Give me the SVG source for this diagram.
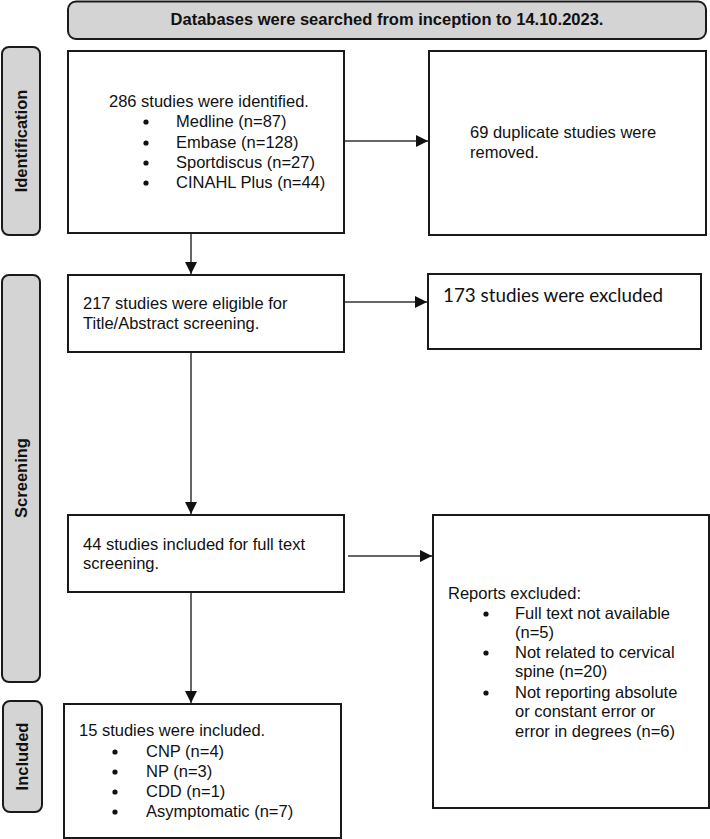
<svg xmlns="http://www.w3.org/2000/svg" width="710" height="839" viewBox="0 0 710 839">
<style>
.tab{fill:#d4d4d4;stroke:#1a1a1a;stroke-width:2}
.box{fill:#ffffff;stroke:#1a1a1a;stroke-width:2}
.t{font-family:"Liberation Sans",Arial,sans-serif;font-size:16.5px;fill:#111}
.b{font-family:"Liberation Sans",Arial,sans-serif;font-size:16.5px;font-weight:bold;fill:#111}
.c{font-family:Lato,"Liberation Sans",sans-serif;font-size:20px;fill:#111}
.conn{stroke:#333;stroke-width:1.5;fill:none}
</style>
<defs>
<marker id="ah" markerUnits="userSpaceOnUse" markerWidth="12" markerHeight="12" viewBox="0 0 12 12" refX="12" refY="6" orient="auto">
<path d="M0,0 L12,6 L0,12 Z" fill="#111"/>
</marker>
</defs>
<rect x="0" y="0" width="710" height="839" fill="#ffffff"/>
<g id="banner">
<rect class="tab" x="68" y="1.5" width="638" height="37.5" rx="8"/>
<text class="b" x="387" y="25" text-anchor="middle">Databases were searched from inception to 14.10.2023.</text>
</g>
<g id="tab-identification">
<rect class="tab" x="2" y="47" width="38" height="188" rx="7"/>
<text class="b" transform="translate(27,141) rotate(-90)" text-anchor="middle">Identification</text>
</g>
<g id="tab-screening">
<rect class="tab" x="2" y="275" width="38" height="407" rx="7"/>
<text class="b" transform="translate(27,478) rotate(-90)" text-anchor="middle">Screening</text>
</g>
<g id="tab-included">
<rect class="tab" x="3" y="701" width="39" height="111" rx="7"/>
<text class="b" transform="translate(28,756.5) rotate(-90)" text-anchor="middle">Included</text>
</g>
<g id="connectors">
<line class="conn" x1="191" y1="233" x2="191" y2="274" marker-end="url(#ah)"/>
<line class="conn" x1="344" y1="141" x2="428" y2="141" marker-end="url(#ah)"/>
<line class="conn" x1="344" y1="302" x2="427" y2="302" marker-end="url(#ah)"/>
<line class="conn" x1="191" y1="352" x2="191" y2="514" marker-end="url(#ah)"/>
<line class="conn" x1="348" y1="556" x2="432" y2="556" marker-end="url(#ah)"/>
<line class="conn" x1="191" y1="592" x2="191" y2="703" marker-end="url(#ah)"/>
</g>
<g id="box-identified">
<rect class="box" x="68" y="51" width="276" height="182"/>
<text class="t" x="109" y="107">286 studies were identified.</text>
<g class="t">
<circle cx="146" cy="122" r="2.6" fill="#111"/>
<text class="t" x="176" y="127">Medline (n=87)</text>
<circle cx="146" cy="143" r="2.6" fill="#111"/>
<text class="t" x="176" y="148">Embase (n=128)</text>
<circle cx="146" cy="163" r="2.6" fill="#111"/>
<text class="t" x="176" y="168">Sportdiscus (n=27)</text>
<circle cx="146" cy="183" r="2.6" fill="#111"/>
<text class="t" x="176" y="188">CINAHL Plus (n=44)</text>
</g>
</g>
<g id="box-duplicates">
<rect class="box" x="429" y="51" width="277" height="184"/>
<text class="t" x="470" y="138">69 duplicate studies were</text>
<text class="t" x="470" y="158">removed.</text>
</g>
<g id="box-eligible">
<rect class="box" x="68" y="275" width="276" height="77"/>
<text class="t" x="83" y="309">217 studies were eligible for</text>
<text class="t" x="83" y="329">Title/Abstract screening.</text>
</g>
<g id="box-excluded">
<rect class="box" x="428" y="274" width="273" height="75"/>
<text class="c" x="443" y="302" textLength="220" lengthAdjust="spacingAndGlyphs">173 studies were excluded</text>
</g>
<g id="box-fulltext">
<rect class="box" x="68" y="515" width="276" height="77"/>
<text class="t" x="83" y="550">44 studies included for full text</text>
<text class="t" x="83" y="569">screening.</text>
</g>
<g id="box-reports">
<rect class="box" x="433" y="515" width="276" height="293"/>
<text class="t" x="448" y="599">Reports excluded:</text>
<circle cx="486" cy="614" r="2.6" fill="#111"/>
<text class="t" x="515" y="619">Full text not available</text>
<text class="t" x="515" y="638">(n=5)</text>
<circle cx="486" cy="653" r="2.6" fill="#111"/>
<text class="t" x="515" y="658">Not related to cervical</text>
<text class="t" x="515" y="677">spine (n=20)</text>
<circle cx="486" cy="693" r="2.6" fill="#111"/>
<text class="t" x="515" y="698">Not reporting absolute</text>
<text class="t" x="515" y="717">or constant error or</text>
<text class="t" x="515" y="737">error in degrees (n=6)</text>
</g>
<g id="box-included">
<rect class="box" x="64" y="704" width="277" height="134"/>
<text class="t" x="79" y="736">15 studies were included.</text>
<circle cx="115" cy="752" r="2.6" fill="#111"/>
<text class="t" x="146" y="757">CNP (n=4)</text>
<circle cx="115" cy="772" r="2.6" fill="#111"/>
<text class="t" x="146" y="777">NP (n=3)</text>
<circle cx="115" cy="792" r="2.6" fill="#111"/>
<text class="t" x="146" y="797">CDD (n=1)</text>
<circle cx="115" cy="812" r="2.6" fill="#111"/>
<text class="t" x="146" y="817">Asymptomatic (n=7)</text>
</g>
</svg>
